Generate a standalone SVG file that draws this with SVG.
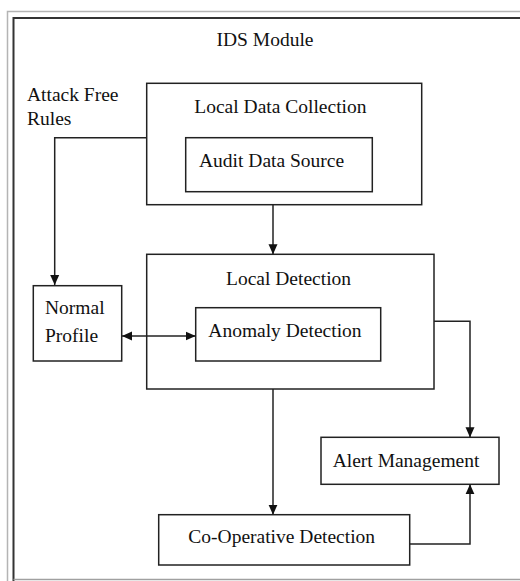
<svg xmlns="http://www.w3.org/2000/svg" width="520" height="581" viewBox="0 0 520 581">
  <style>
    .box { fill: #ffffff; stroke: #222222; stroke-width: 1.5; }
    .wire { fill: none; stroke: #222222; stroke-width: 1.5; }
    .lbl { font-family: "Liberation Serif", "Times New Roman", serif; font-size: 19.5px; fill: #111111; }
  </style>
  <defs>
    <marker id="arrow" viewBox="0 0 10 10" refX="10" refY="5" markerWidth="10" markerHeight="10" markerUnits="userSpaceOnUse" orient="auto-start-reverse">
      <path d="M0,0.5 L10,5 L0,9.5 z" fill="#111111"/>
    </marker>
  </defs>

  <rect width="520" height="581" fill="#ffffff"/>

  <!-- page frame -->
  <g id="frame">
    <path d="M7.5,581 V11.5 H520" fill="none" stroke="#b4b4b4" stroke-width="1.5"/>
    <path d="M13.5,581 V18 H520" fill="none" stroke="#333333" stroke-width="2"/>
    <path d="M13.5,579.5 H520" fill="none" stroke="#a0a0a0" stroke-width="1.5"/>
  </g>

  <g id="title">
    <text class="lbl" x="216.5" y="46">IDS Module</text>
  </g>

  <g id="attack-free-rules">
    <text class="lbl" x="27" y="101">Attack Free</text>
    <text class="lbl" x="27" y="125">Rules</text>
  </g>

  <g id="local-data-collection">
    <rect class="box" x="146.7" y="83.3" width="275" height="121.4"/>
    <text class="lbl" x="194.3" y="113.3">Local Data Collection</text>
  </g>

  <g id="audit-data-source">
    <rect class="box" x="185.7" y="137.7" width="186.6" height="54"/>
    <text class="lbl" x="199" y="166.7">Audit Data Source</text>
  </g>

  <g id="normal-profile">
    <rect class="box" x="33.3" y="285.7" width="88.4" height="75.3"/>
    <text class="lbl" x="45" y="314.3">Normal</text>
    <text class="lbl" x="45" y="342.3">Profile</text>
  </g>

  <g id="local-detection">
    <rect class="box" x="146.7" y="254.3" width="287.3" height="134.7"/>
    <text class="lbl" x="226" y="285">Local Detection</text>
  </g>

  <g id="anomaly-detection">
    <rect class="box" x="195.7" y="307.7" width="185" height="53.3"/>
    <text class="lbl" x="208.3" y="336.7">Anomaly Detection</text>
  </g>

  <g id="alert-management">
    <rect class="box" x="321" y="437.3" width="178" height="47"/>
    <text class="lbl" x="332.7" y="467.3">Alert Management</text>
  </g>

  <g id="co-operative-detection">
    <rect class="box" x="158.7" y="514.7" width="251" height="50.3"/>
    <text class="lbl" x="188.3" y="543.3">Co-Operative Detection</text>
  </g>

  <!-- connectors, drawn over the boxes so the two-way link crosses the Local Detection border -->
  <g id="connectors">
    <path class="wire" d="M147,137.7 H54.7 V285" marker-end="url(#arrow)"/>
    <path class="wire" d="M273,204.7 V254.3" marker-end="url(#arrow)"/>
    <path class="wire" d="M122,336 H195.7" marker-start="url(#arrow)" marker-end="url(#arrow)"/>
    <path class="wire" d="M434,321.3 H470 V437.3" marker-end="url(#arrow)"/>
    <path class="wire" d="M273,389 V514.7" marker-end="url(#arrow)"/>
    <path class="wire" d="M410,544 H470 V484.3" marker-end="url(#arrow)"/>
  </g>
</svg>
